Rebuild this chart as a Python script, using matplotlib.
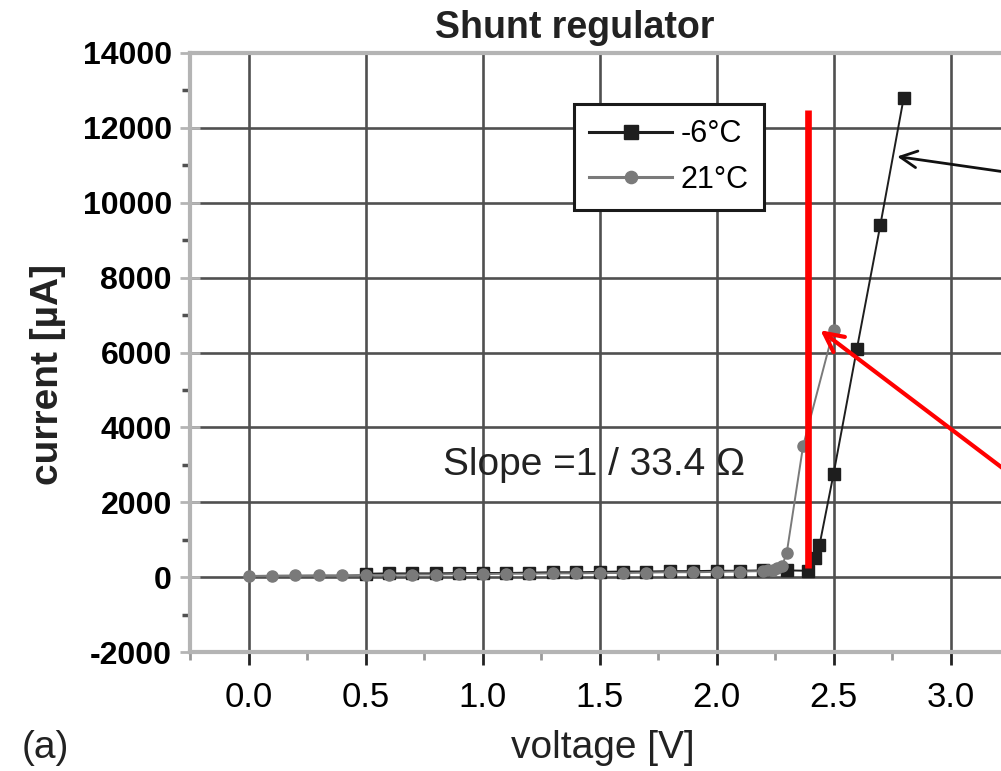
import matplotlib
matplotlib.use("Agg")
from matplotlib import pyplot as plt
from matplotlib.ticker import MultipleLocator
import numpy as np

# -6 degC series (black squares)
V_COLD = [0.5, 0.6, 0.7, 0.8, 0.9, 1.0, 1.1, 1.2, 1.3, 1.4, 1.5, 1.6, 1.7, 1.8,
          1.9, 2.0, 2.1, 2.2, 2.3, 2.39, 2.42, 2.44, 2.5, 2.6, 2.7, 2.8]
I_COLD = [90, 100, 100, 100, 110, 110, 110, 120, 130, 130, 140, 150, 150, 160,
          160, 170, 170, 180, 180, 170, 500, 850, 2750, 6100, 9400, 12800]

# 21 degC series (grey circles)
V_WARM = [0.0, 0.1, 0.2, 0.3, 0.4, 0.5, 0.6, 0.7, 0.8, 0.9, 1.0, 1.1, 1.2, 1.3,
          1.4, 1.5, 1.6, 1.7, 1.8, 1.9, 2.0, 2.1, 2.2, 2.22, 2.24, 2.26, 2.28,
          2.3, 2.37, 2.5]
I_WARM = [30, 40, 45, 50, 50, 60, 60, 70, 70, 80, 80, 90, 90, 100,
          100, 110, 110, 120, 130, 130, 140, 150, 160, 180, 200, 240, 300,
          640, 3500, 6600]

LABELS = ["-6°C", "21°C"]
SLOPE_TEXT = "Slope =1 / 33.4 Ω"

# red reference line and the two callout arrows (data coords)
RED_X = 2.393
RED_Y = (240, 12480)
RED_ARROW = ((2.444, 6595), (3.855, -80))
BLACK_ARROW = ((2.772, 11235), (3.855, 10264))

GRID = "#505050"
SPINE = "#b4b4b4"
SANS = ["Liberation Sans", "DejaVu Sans"]

plt.rcParams["font.family"] = SANS
plt.rcParams["axes.unicode_minus"] = False

fig = plt.figure(figsize=(10.01, 7.71), dpi=100)
# axes runs off the right edge of the picture, as in the cropped original
x_lo, x_hi = -0.25, 3.3
px_per_v = 234.0
ax = fig.add_axes([190 / 1001, 119 / 771, (x_hi - x_lo) * px_per_v / 1001, 599 / 771])
ax.set_xlim(x_lo, x_hi)
ax.set_ylim(-2000, 14000)

ax.xaxis.set_major_locator(MultipleLocator(0.5))
ax.xaxis.set_minor_locator(MultipleLocator(0.25))
ax.yaxis.set_major_locator(MultipleLocator(2000))
ax.yaxis.set_minor_locator(MultipleLocator(1000))
ax.grid(True, which="major", color=GRID, linewidth=1.9)
ax.set_axisbelow(True)

for side in ("left", "bottom", "top"):
    ax.spines[side].set_color(SPINE)
    ax.spines[side].set_linewidth(3)
ax.spines["right"].set_visible(False)

ax.tick_params(axis="y", which="major", direction="inout", length=14, width=2,
               color=SPINE, labelsize=23, pad=6)
ax.tick_params(axis="y", which="minor", direction="out", length=6, width=2.5,
               color=GRID)
ax.tick_params(axis="x", which="major", direction="out", length=9, width=2,
               color="#222222", labelsize=25, pad=12)
ax.tick_params(axis="x", which="minor", direction="out", length=6, width=2,
               color="#999999")
ax.set_xticklabels([f"{v:.1f}" for v in ax.get_xticks()])
for lab in ax.get_yticklabels():
    lab.set_fontweight("bold")

ax.plot(V_COLD, I_COLD, "-s", color="#1e1e1e", linewidth=1.4, markersize=9,
        label=LABELS[0], zorder=3)
ax.plot(V_WARM, I_WARM, "-o", color="#7a7a7a", linewidth=1.4, markersize=8,
        label=LABELS[1], zorder=4)

ax.plot([RED_X, RED_X], RED_Y, color="#ff0000", linewidth=4.8, zorder=5,
        solid_capstyle="butt")

ax.annotate("", xy=RED_ARROW[0], xytext=RED_ARROW[1], annotation_clip=False,
            arrowprops=dict(arrowstyle="->", color="#ff0000", lw=3,
                            mutation_scale=34, shrinkA=0, shrinkB=0), zorder=6)
ax.annotate("", xy=BLACK_ARROW[0], xytext=BLACK_ARROW[1], annotation_clip=False,
            arrowprops=dict(arrowstyle="->", color="#111111", lw=2,
                            mutation_scale=30, shrinkA=0, shrinkB=0), zorder=6)

ax.text(0.83, 3000, SLOPE_TEXT, fontsize=28, color="#222222", va="center",
        ha="left", zorder=6)

leg = ax.legend(loc="upper left", bbox_to_anchor=(574 / 1001, 1 - 104 / 771),
                bbox_transform=fig.transFigure, borderaxespad=0, fontsize=22,
                frameon=True, fancybox=False, handlelength=2.7, handletextpad=0.3,
                labelspacing=0.5, borderpad=0.5, markerscale=1.1)
leg.get_frame().set_edgecolor("#1a1a1a")
leg.get_frame().set_linewidth(2.2)
leg.get_frame().set_alpha(1)
for line in leg.get_lines():
    line.set_linewidth(2.2)

fig.text(575 / 1001, 1 - 28 / 771, "Shunt regulator", fontsize=27,
         fontweight="bold", ha="center", va="center", color="#222222")
fig.text(48 / 1001, 1 - 374 / 771, "current [µA]", fontsize=28, fontweight="bold",
         rotation=90, ha="center", va="center", color="#222222")
fig.text(603 / 1001, 1 - 748 / 771, "voltage [V]", fontsize=28, ha="center",
         va="center", color="#222222")
fig.text(45 / 1001, 1 - 748 / 771, "(a)", fontsize=28, ha="center", va="center",
         color="#222222")

fig.savefig("out.png", dpi=100)
